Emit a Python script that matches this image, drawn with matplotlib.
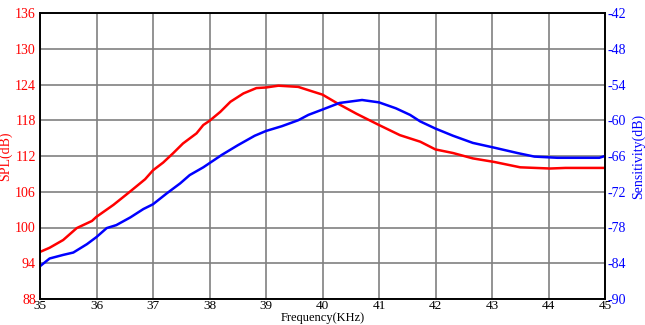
import numpy as np
import matplotlib
matplotlib.use('Agg')
import matplotlib.pyplot as plt

# Дані
freq_spl = [35.0, 35.17, 35.41, 35.65, 35.92, 36.0, 36.3, 36.59, 36.86, 37.0,
            37.18, 37.36, 37.53, 37.77, 37.89, 38.0, 38.19, 38.37, 38.6, 38.83,
            39.0, 39.22, 39.57, 39.8, 40.0, 40.27, 40.6, 41.0, 41.37, 41.73,
            42.0, 42.31, 42.66, 43.04, 43.5, 44.03, 44.3, 45.0]
spl = [95.9, 96.6, 97.9, 99.9, 101.1, 101.8, 103.8, 106.0, 108.1, 109.6,
       110.9, 112.5, 114.1, 115.8, 117.2, 117.9, 119.4, 121.1, 122.5, 123.4,
       123.5, 123.8, 123.6, 122.9, 122.3, 120.8, 119.1, 117.2, 115.5, 114.4,
       113.1, 112.5, 111.6, 111.0, 110.1, 109.9, 110.0, 110.0]

freq_sens = [35.0, 35.17, 35.41, 35.59, 35.83, 36.0, 36.18, 36.35, 36.6, 36.83,
             37.0, 37.24, 37.48, 37.65, 37.89, 38.0, 38.22, 38.5, 38.8, 39.0,
             39.28, 39.57, 39.75, 40.0, 40.3, 40.7, 41.0, 41.3, 41.55, 41.73,
             42.0, 42.31, 42.66, 43.04, 43.45, 43.75, 44.16, 44.9, 45.0]
sens = [-84.5, -83.2, -82.6, -82.2, -80.8, -79.6, -78.1, -77.6, -76.3, -74.9,
        -74.1, -72.3, -70.6, -69.2, -67.9, -67.2, -65.8, -64.2, -62.6, -61.8,
        -61.0, -60.0, -59.1, -58.2, -57.1, -56.6, -57.0, -58.0, -59.1, -60.2,
        -61.4, -62.6, -63.8, -64.6, -65.5, -66.1, -66.3, -66.3, -66.0]

spl_ticks = [88, 94, 100, 106, 112, 118, 124, 130, 136]
sens_ticks = [-90, -84, -78, -72, -66, -60, -54, -48, -42]
freq_ticks = [35, 36, 37, 38, 39, 40, 41, 42, 43, 44, 45]

plt.rcParams['font.family'] = ['Liberation Serif', 'DejaVu Serif']

fig = plt.figure(figsize=(6.45, 3.25), dpi=100)
ax = fig.add_axes([40 / 645, 26 / 325, 565 / 645, 286 / 325])
ax2 = ax.twinx()

ax.plot(freq_spl, spl, color='#ff0000', lw=1.8)
ax2.plot(freq_sens, sens, color='#0000ff', lw=1.8)

ax.set_xlim(35, 45)
ax.set_ylim(88, 136)
ax2.set_ylim(-90, -42)
ax.set_xticks(freq_ticks)
ax.set_yticks(spl_ticks)
ax2.set_yticks(sens_ticks)
ax2.set_yticklabels([f'-{abs(v)}' for v in sens_ticks])

ax.grid(True, color='#808080', lw=1.2)
ax.tick_params(axis='y', length=0, labelsize=10, pad=3, colors='#ff0000')
ax.tick_params(axis='x', length=0, labelsize=9.5, pad=1, colors='black')
ax2.tick_params(axis='y', length=0, labelsize=10, colors='#0000ff', pad=2)
for s in list(ax.spines.values()) + list(ax2.spines.values()):
    s.set_color('black')
    s.set_linewidth(1.2)

ax.set_xlabel('Frequency(KHz)', fontsize=9, labelpad=0)
ax.set_ylabel('SPL(dB)', color='#ff0000', fontsize=10, labelpad=2)
ax2.set_ylabel('Sensitivity(dB)', color='#0000ff', fontsize=10, labelpad=4)

fig.savefig('out.png', dpi=100)
